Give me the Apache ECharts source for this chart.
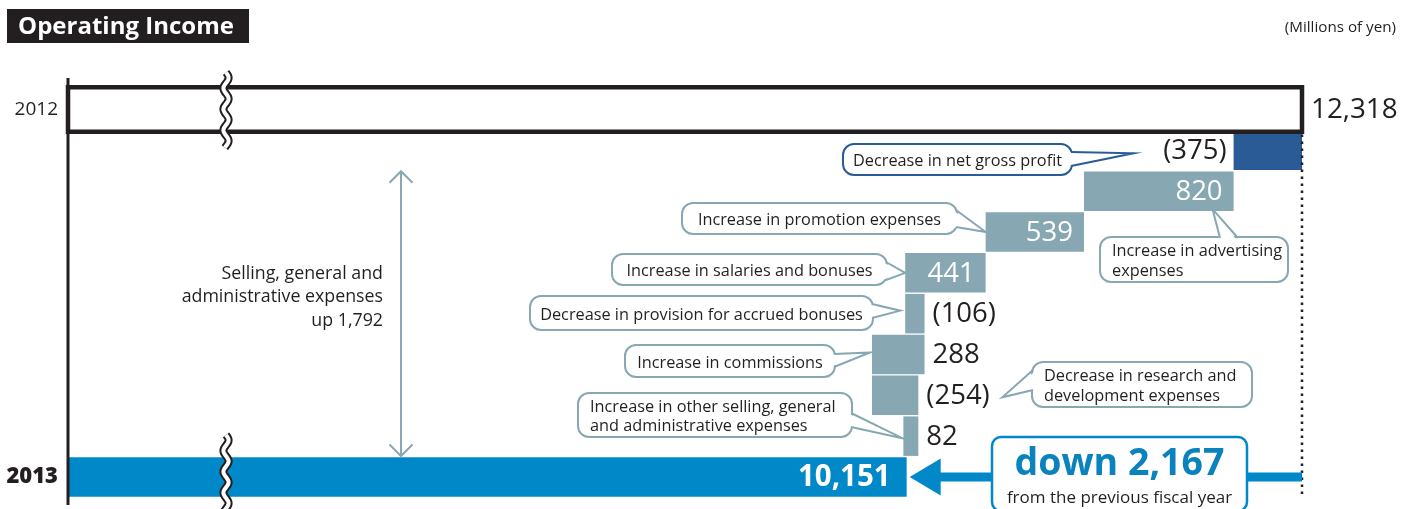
<!DOCTYPE html>
<html>
<head>
<meta charset="utf-8">
<title>Operating Income</title>
<script src="https://cdn.jsdelivr.net/npm/echarts@6/dist/echarts.min.js"></script>
<style>
  html, body { margin: 0; padding: 0; background: #ffffff; }
  #chart { width: 1414px; height: 509px; }
</style>
</head>
<body>
<div id="chart"></div>
<script>
// ---- data (millions of yen) ----
const rows = [
  '2012',
  'Decrease in net gross profit',
  'Increase in advertising expenses',
  'Increase in promotion expenses',
  'Increase in salaries and bonuses',
  'Decrease in provision for accrued bonuses',
  'Increase in commissions',
  'Decrease in research and development expenses',
  'Increase in other selling, general and administrative expenses',
  '2013'
];
const income2012 = 12318;
const income2013 = 10151;
// reported change of each item (profit item first, then expense items)
const itemAmounts = [-375, 820, 539, 441, -106, 288, -254, 82];
// +1: item adds to income as reported, -1: expense item (an increase lowers income)
const itemSigns = [1, -1, -1, -1, -1, -1, -1, -1];
// where each item's figure sits relative to its bar
const itemLabelPlacement = ['left', 'insideRight', 'insideRight', 'insideRight', 'right', 'right', 'right', 'right'];
const sgaIncrease = 1792;

// start of the (broken) value axis
const axisMin = 5554;

const FONT = '"Open Sans", "Noto Sans", sans-serif';
const DARK = '#231f20';
const TEAL = '#87a8b3';
const NAVY = '#2b5b97';
const BLUE = '#0088c9';
const GRID_LEFT = 68;
const NOTE_SIZE = 16.3;

const fmt = n => n.toLocaleString('en-US');
const itemText = a => (a < 0 ? '(' + fmt(-a) + ')' : fmt(a));

// waterfall pieces: [row, from, to, kind]  kind 0=2012, 1=profit item, 2=expense item, 3=2013
const bars = [[0, axisMin, income2012, 0]];
let level = income2012;
itemAmounts.forEach((a, i) => {
  const next = level + itemSigns[i] * a;
  bars.push([i + 1, level, next, itemSigns[i] > 0 ? 1 : 2]);
  level = next;
});
bars.push([rows.length - 1, axisMin, income2013, 3]);

function renderBar(params, api) {
  const row = api.value(0), from = api.value(1), to = api.value(2), kind = api.value(3);
  const a = api.coord([from, row]);
  const b = api.coord([to, row]);
  const band = api.size([0, 1])[1];
  const xl = Math.min(a[0], b[0]);
  const xr = Math.max(a[0], b[0]);
  const cy = a[1];
  const children = [];
  const txt = (text, x, align, color, size, weight) => ({
    type: 'text', z2: 20,
    style: { text, x, y: cy + 1, align, verticalAlign: 'middle', fill: color,
             fontSize: size, fontFamily: FONT, fontWeight: weight || 'normal' }
  });
  if (kind === 0) {
    const h = band + 3.7;
    children.push({ type: 'rect', z2: 10,
      shape: { x: xl, y: cy - h / 2, width: xr - xl, height: h },
      style: { fill: '#ffffff', stroke: DARK, lineWidth: 4.5 } });
    children.push(txt(fmt(income2012), xr + 9, 'left', DARK, 27.8));
  } else if (kind === 3) {
    const h = band - 1.3;
    children.push({ type: 'rect', shape: { x: xl, y: cy - h / 2, width: xr - xl, height: h },
      style: { fill: BLUE } });
    children.push(txt(fmt(income2013), xr - 16, 'right', '#ffffff', 29.5, 'bold'));
  } else {
    const i = row - 1;
    const h = band - 1.3;
    children.push({ type: 'rect', shape: { x: xl, y: cy - h / 2, width: xr - xl, height: h },
      style: { fill: kind === 1 ? NAVY : TEAL } });
    const t = itemText(itemAmounts[i]);
    const place = itemLabelPlacement[i];
    if (place === 'left') children.push(txt(t, xl - 7, 'right', DARK, 27.5));
    else if (place === 'insideRight') children.push(txt(t, xr - 11, 'right', '#ffffff', 27.5));
    else children.push(txt(t, xr + 8, 'left', DARK, 27.5));
  }
  return { type: 'group', children };
}

const chart = echarts.init(document.getElementById('chart'));
chart.setOption({
  animation: false,
  backgroundColor: '#ffffff',
  grid: { left: GRID_LEFT, right: 112, top: 89.1, bottom: 11.6 },
  xAxis: { type: 'value', min: axisMin, max: income2012, show: false },
  yAxis: {
    type: 'category', data: rows, inverse: true,
    axisLine: { show: false }, axisTick: { show: false }, splitLine: { show: false },
    axisLabel: {
      margin: 10,
      formatter: (v, idx) => idx === 0 ? '{a|' + v + '}' : (idx === rows.length - 1 ? '{b|' + v + '}' : ''),
      rich: {
        a: { fontSize: 19, color: DARK, fontFamily: FONT },
        b: { fontSize: 22, color: DARK, fontFamily: FONT, fontWeight: 800 }
      }
    }
  },
  series: [{
    type: 'custom', clip: false, z: 2,
    encode: { x: [1, 2], y: 0 },
    renderItem: renderBar,
    data: bars
  }]
});

// ---- annotations, positioned from the axes ----
const px = v => chart.convertToPixel({ gridIndex: 0 }, [v, 0])[0];
const py = r => chart.convertToPixel({ gridIndex: 0 }, [axisMin, r])[1];
const band = py(1) - py(0);
const barLeft = r => px(Math.min(bars[r][1], bars[r][2]));
const barRight = r => px(Math.max(bars[r][1], bars[r][2]));

const callouts = [
  { text: rows[1], box: [843, 144, 229, 31], color: NAVY, side: 'right', base: [152, 166], row: 1, anchor: 'left', dx: -100, dy: 3 },
  { text: 'Increase in advertising\nexpenses', box: [1100, 237, 188, 45], side: 'top', base: [1220, 1238], row: 2, anchor: 'right', dx: -21, dy: 18, multi: true },
  { text: rows[3], box: [682, 203, 275, 31], side: 'right', base: [210, 227], row: 3, anchor: 'left', dx: 0, dy: 0 },
  { text: rows[4], box: [612, 254, 275, 31], side: 'right', base: [262, 280], row: 4, anchor: 'left', dx: 0, dy: 0 },
  { text: rows[5], box: [530, 296, 343, 34], side: 'right', base: [304, 318], row: 5, anchor: 'left', dx: -5, dy: -3 },
  { text: rows[6], box: [625, 345, 210, 32], side: 'right', base: [354, 367], row: 6, anchor: 'left', dx: -2, dy: -2 },
  { text: 'Decrease in research and\ndevelopment expenses', box: [1032, 362, 220, 45], side: 'left', base: [370, 390], row: 7, anchor: 'right', dx: 84, dy: 2, multi: true },
  { text: 'Increase in other selling, general\nand administrative expenses', box: [578, 393, 274, 44], side: 'right', base: [413, 427], row: 8, anchor: 'left', dx: -1, dy: 2, multi: true }
];

function calloutElements(c) {
  const [bx, by, bw, bh] = c.box;
  const col = c.color || TEAL;
  const tip = [(c.anchor === 'left' ? barLeft(c.row) : barRight(c.row)) + c.dx, py(c.row) + c.dy];
  let inner, outer;
  if (c.side === 'right') {
    const x = bx + bw;
    inner = [[x - 5, c.base[0]], [x - 5, c.base[1]]];
    outer = [[x - 1, c.base[0]], [x - 1, c.base[1]]];
  } else if (c.side === 'left') {
    inner = [[bx + 5, c.base[0]], [bx + 5, c.base[1]]];
    outer = [[bx + 1, c.base[0]], [bx + 1, c.base[1]]];
  } else {
    inner = [[c.base[0], by + 5], [c.base[1], by + 5]];
    outer = [[c.base[0], by + 1], [c.base[1], by + 1]];
  }
  const els = [
    { type: 'rect', z: 50, shape: { x: bx, y: by, width: bw, height: bh, r: 11 },
      style: { fill: '#ffffff', stroke: col, lineWidth: 2 } },
    { type: 'polygon', z: 51, shape: { points: [inner[0], tip, inner[1]] }, style: { fill: '#ffffff' } },
    { type: 'polyline', z: 52, shape: { points: [outer[0], tip, outer[1]] },
      style: { stroke: col, lineWidth: 2, fill: null, lineJoin: 'miter' } }
  ];
  els.push({ type: 'text', z: 53, style: c.multi
    ? { text: c.text, x: bx + 12, y: by + bh / 2 + 2, align: 'left', verticalAlign: 'middle',
        lineHeight: 19.5, fontSize: NOTE_SIZE, fontFamily: FONT, fill: DARK }
    : { text: c.text, x: bx + bw / 2, y: by + bh / 2 + 2.3, align: 'center', verticalAlign: 'middle',
        fontSize: NOTE_SIZE, fontFamily: FONT, fill: DARK } });
  return els;
}

function wavePoints(cx, y0, y1) {
  const pts = [];
  for (let y = y0; y <= y1; y += 1) pts.push([cx + 2.6 * Math.sin((y - y0) / 21 * 2 * Math.PI), y]);
  return pts;
}
function breakMark(cx, y0, y1) {
  const pts = wavePoints(cx, y0, y1);
  return [
    { type: 'polyline', z: 60, shape: { points: pts }, style: { stroke: DARK, lineWidth: 8, fill: null } },
    { type: 'polyline', z: 61, shape: { points: pts }, style: { stroke: '#ffffff', lineWidth: 4, fill: null } }
  ];
}

const x2012 = px(income2012);
const x2013 = px(income2013);
const yTop = py(0), yEnd = py(rows.length - 1);
const breakX = GRID_LEFT + 158;

// arrow from the 2012 level back to the 2013 bar
const tipX = x2013 + 3;
const headLen = 31, headHalf = 18.5;

// double arrow spanning the expense items
const sgaTop = py(2) - band / 2;
const sgaBottom = py(rows.length - 2) + band / 2;
const sgaX = 401;

const graphics = [
  // title
  { type: 'rect', z: 40, shape: { x: 7, y: 9, width: 242, height: 34 }, style: { fill: DARK } },
  { type: 'text', z: 41, style: { text: 'Operating Income', x: 126, y: 27, align: 'center', verticalAlign: 'middle',
      fontSize: 24, fontWeight: 'bold', fontFamily: FONT, fill: '#ffffff' } },
  { type: 'text', z: 41, style: { text: '(Millions of yen)', x: 1396, y: 28, align: 'right', verticalAlign: 'middle',
      fontSize: 15.2, fontFamily: FONT, fill: DARK } },
  // value axis line
  { type: 'line', z: 30, shape: { x1: GRID_LEFT, y1: 78, x2: GRID_LEFT, y2: 505 }, style: { stroke: DARK, lineWidth: 3 } },
  // dotted guide at the 2012 level
  { type: 'line', z: 30, shape: { x1: x2012, y1: yTop + band / 2 + 4.5, x2: x2012, y2: 495 },
    style: { stroke: DARK, lineWidth: 2.5, lineDash: [2.5, 4.5] } },
  // arrow
  { type: 'line', z: 31, shape: { x1: x2012, y1: yEnd, x2: tipX + headLen - 1, y2: yEnd }, style: { stroke: BLUE, lineWidth: 9 } },
  { type: 'polygon', z: 31, shape: { points: [[tipX, yEnd], [tipX + headLen, yEnd - headHalf], [tipX + headLen, yEnd + headHalf]] },
    style: { fill: BLUE } },
  { type: 'rect', z: 32, shape: { x: 992, y: 437, width: 255, height: 74, r: 9 },
    style: { fill: '#ffffff', stroke: BLUE, lineWidth: 2.5 } },
  { type: 'text', z: 33, style: { text: 'down ' + fmt(income2012 - income2013), x: 1119.5, y: 464, align: 'center', verticalAlign: 'middle',
      fontSize: 37.5, fontWeight: 'bold', fontFamily: FONT, fill: '#0a82be' } },
  { type: 'text', z: 33, style: { text: 'from the previous fiscal year', x: 1119.5, y: 498, align: 'center', verticalAlign: 'middle',
      fontSize: 17, fontFamily: FONT, fill: DARK } },
  // SG&A total
  { type: 'line', z: 30, shape: { x1: sgaX, y1: sgaTop + 1, x2: sgaX, y2: sgaBottom - 1 }, style: { stroke: TEAL, lineWidth: 2 } },
  { type: 'polyline', z: 30, shape: { points: [[sgaX - 11.5, sgaTop + 12], [sgaX, sgaTop + 0.5], [sgaX + 11.5, sgaTop + 12]] },
    style: { stroke: TEAL, lineWidth: 2, fill: null } },
  { type: 'polyline', z: 30, shape: { points: [[sgaX - 11.5, sgaBottom - 12], [sgaX, sgaBottom - 0.5], [sgaX + 11.5, sgaBottom - 12]] },
    style: { stroke: TEAL, lineWidth: 2, fill: null } },
  { type: 'text', z: 30, style: { text: 'Selling, general and\nadministrative expenses\nup ' + fmt(sgaIncrease),
      x: 383, y: 297, align: 'right', verticalAlign: 'middle', lineHeight: 23.5,
      fontSize: 17.8, fontFamily: FONT, fill: DARK } }
];

breakMark(breakX, yTop - 37, yTop + 38).forEach(e => graphics.push(e));
breakMark(breakX, yEnd - 42, yEnd + 34).forEach(e => graphics.push(e));
callouts.forEach(c => calloutElements(c).forEach(e => graphics.push(e)));

chart.setOption({ graphic: { elements: graphics } });
</script>
</body>
</html>
